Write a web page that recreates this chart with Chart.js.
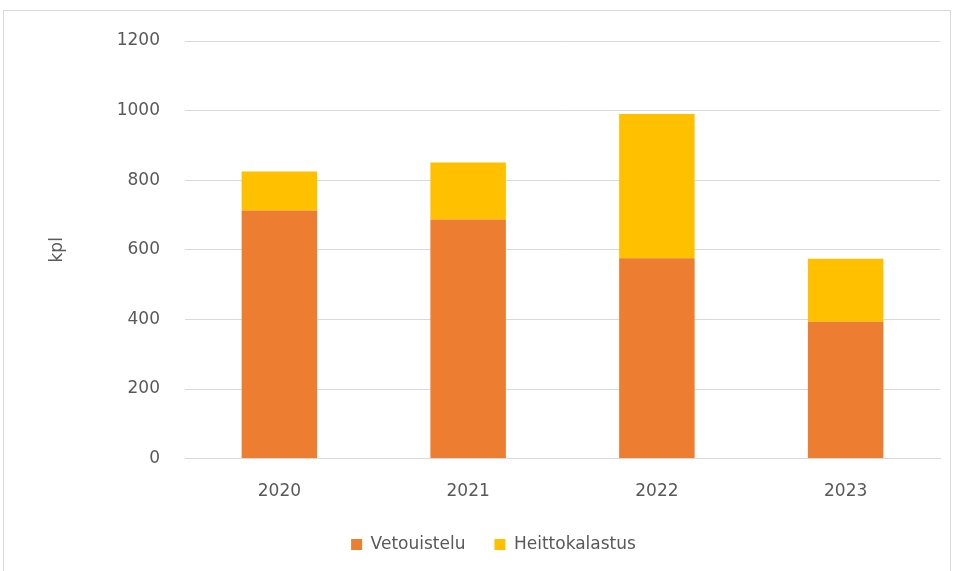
<!DOCTYPE html>
<html>
<head>
<meta charset="utf-8">
<script src="https://cdn.jsdelivr.net/npm/chart.js@4/dist/chart.umd.min.js"></script>
<style>
  html, body { margin: 0; padding: 0; background: #fff; }
  #wrap { position: absolute; left: 0; top: 0; width: 954px; height: 571px; }
  #frame { position: absolute; left: 3px; top: 10px; width: 948px; height: 570px; border: 1px solid #d9d9d9; box-sizing: border-box; }
</style>
</head>
<body>
<div id="wrap">
  <div id="frame"></div>
  <canvas id="c" width="954" height="571"></canvas>
</div>
<script>
// Vuodet ja saaliit (kpl)
const years = ["2020", "2021", "2022", "2023"];
const vetouistelu = [713, 687, 576, 393];
const heittokalastus = [112, 164, 414, 181];
const yTicks = [0, 200, 400, 600, 800, 1000, 1200];

const TEXT = "#595959";
const FONT = "'DejaVu Sans', 'Liberation Sans', sans-serif";

new Chart(document.getElementById("c"), {
  type: "bar",
  data: {
    labels: years,
    datasets: [
      { label: "Vetouistelu", data: vetouistelu, backgroundColor: "#ED7D31" },
      { label: "Heittokalastus", data: heittokalastus, backgroundColor: "#FFC000" },
    ],
  },
  options: {
    responsive: false,
    animation: false,
    layout: { padding: { left: 47, right: 14, top: 41, bottom: 8 } },
    datasets: { bar: { barPercentage: 0.4, categoryPercentage: 1.0 } },
    plugins: {
      legend: {
        position: "bottom",
        labels: {
          color: TEXT,
          font: { family: FONT, size: 17 },
          boxWidth: 11,
          boxHeight: 11,
          padding: 29,
        },
      },
      tooltip: { enabled: false },
    },
    scales: {
      x: {
        stacked: true,
        afterFit: (axis) => { axis.height = axis.height - 10; },
        grid: { display: false },
        border: { color: "#d9d9d9" },
        ticks: { color: TEXT, font: { family: FONT, size: 17 }, padding: 15 },
      },
      y: {
        stacked: true,
        min: 0,
        max: 1200,
        afterBuildTicks: (axis) => { axis.ticks = yTicks.map((v) => ({ value: v })); },
        afterFit: (axis) => { axis.width = 138; },
        grid: { color: "#d9d9d9", drawTicks: false },
        border: { display: false },
        ticks: {
          color: TEXT,
          font: { family: FONT, size: 17 },
          padding: 25,
          callback: (v) => String(v),
        },
        title: {
          display: true,
          text: "kpl",
          color: TEXT,
          font: { family: FONT, size: 17 },
          padding: 0,
        },
      },
    },
  },
});
</script>
</body>
</html>
